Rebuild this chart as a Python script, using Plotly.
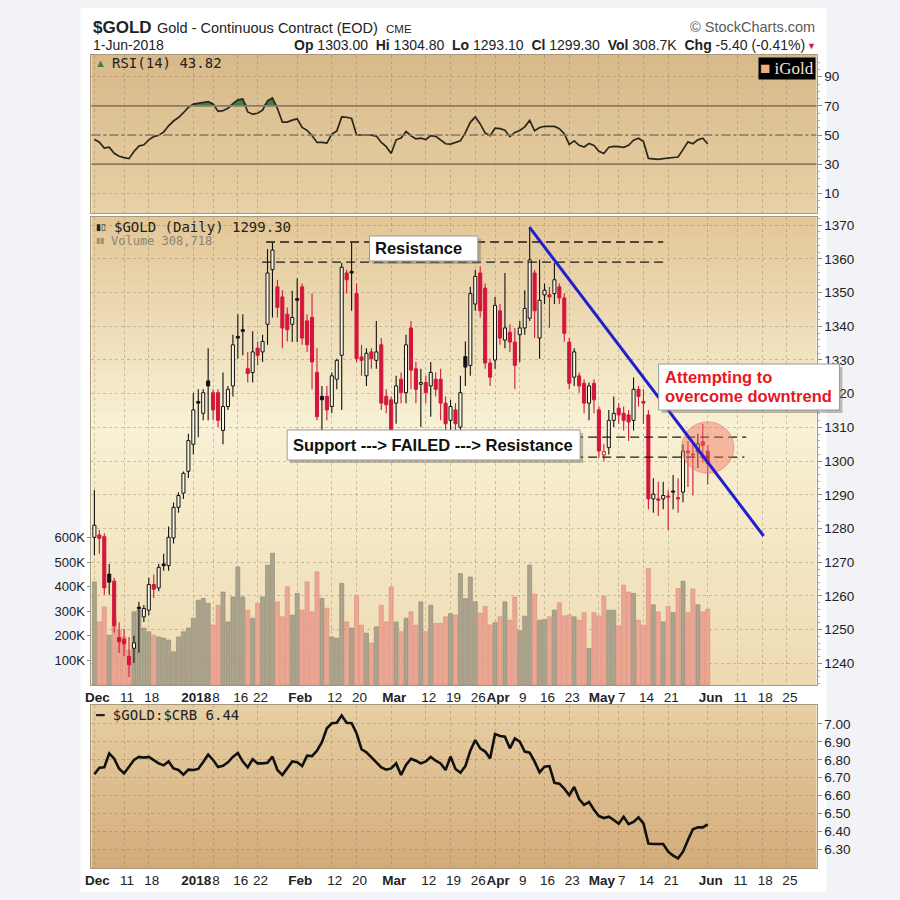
import plotly.graph_objects as go

W, H = 900, 900

# ---------------- data ----------------
month_days = {
    "2017-12": [1, 4, 5, 6, 7, 8, 11, 12, 13, 14, 15, 18, 19, 20, 21, 22, 26, 27, 28, 29],
    "2018-01": [2, 3, 4, 5, 8, 9, 10, 11, 12, 16, 17, 18, 19, 22, 23, 24, 25, 26, 29, 30, 31],
    "2018-02": [1, 2, 5, 6, 7, 8, 9, 12, 13, 14, 15, 16, 20, 21, 22, 23, 26, 27, 28],
    "2018-03": [1, 2, 5, 6, 7, 8, 9, 12, 13, 14, 15, 16, 19, 20, 21, 22, 23, 26, 27, 28, 29],
    "2018-04": [2, 3, 4, 5, 6, 9, 10, 11, 12, 13, 16, 17, 18, 19, 20, 23, 24, 25, 26, 27, 30],
    "2018-05": [1, 2, 3, 4, 7, 8, 9, 10, 11, 14, 15, 16, 17, 18, 21, 22, 23, 24, 25, 29, 30, 31],
    "2018-06": [1, 4, 5, 6, 7, 8, 11, 12, 13, 14, 15, 18, 19, 20, 21, 22, 25, 26, 27, 28, 29],
}
dates = [f"{m}-{d:02d}" for m, ds in month_days.items() for d in ds]

tick_dates = ["2017-12-01", "2017-12-11", "2017-12-18", "2018-01-02", "2018-01-08", "2018-01-16",
              "2018-01-22", "2018-02-01", "2018-02-12", "2018-02-20", "2018-03-01", "2018-03-12",
              "2018-03-19", "2018-03-26", "2018-04-02", "2018-04-09", "2018-04-16", "2018-04-23",
              "2018-05-01", "2018-05-07", "2018-05-14", "2018-05-21", "2018-06-01", "2018-06-11",
              "2018-06-18", "2018-06-25"]
tick_text = ["<b>Dec</b>", "11", "18", "<b>2018</b>", "8", "16", "22", "<b>Feb</b>", "12", "20",
             "<b>Mar</b>", "12", "19", "26", "<b>Apr</b>", "9", "16", "23", "<b>May</b>", "7",
             "14", "21", "<b>Jun</b>", "11", "18", "25"]

opens = [1277.4, 1278.1, 1277.6, 1266.5, 1264.4, 1247.7, 1247.2, 1242.1, 1244.5, 1256.7,
         1253.8, 1255.8, 1263.4, 1262.4, 1269.5, 1269.0, 1277.2, 1286.3, 1290.5, 1297.0,
         1305.0, 1317.7, 1314.2, 1323.8, 1320.3, 1320.3, 1309.1, 1316.2, 1322.3, 1337.0,
         1339.0, 1327.4, 1326.3, 1333.5, 1332.4, 1340.6, 1356.8, 1351.7, 1348.7, 1343.6,
         1340.6, 1348.2, 1351.7, 1341.6, 1342.6, 1326.3, 1319.2, 1319.2, 1316.2, 1324.3,
         1331.4, 1355.8, 1356.3, 1349.7, 1330.9, 1325.3, 1332.4, 1329.9, 1334.5, 1319.2,
         1318.2, 1317.2, 1324.3, 1320.3, 1339.5, 1327.4, 1322.8, 1323.3, 1322.3, 1324.3,
         1324.3, 1317.2, 1312.1, 1315.2, 1310.1, 1331.0, 1328.4, 1346.6, 1355.8, 1351.3,
         1329.1, 1330.0, 1344.6, 1335.9, 1338.2, 1335.3, 1337.5, 1339.5, 1342.4, 1355.8,
         1336.5, 1349.3, 1349.3, 1349.7, 1351.7, 1348.4, 1335.3, 1324.9, 1325.3, 1323.1,
         1317.2, 1323.1, 1315.2, 1301.8, 1304.0, 1312.1, 1315.7, 1314.2, 1313.7, 1312.1,
         1321.3, 1317.7, 1313.7, 1288.8, 1288.8, 1288.8, 1289.6, 1291.1, 1289.1, 1290.8,
         1303.0, 1302.0, 1302.7, 1305.8, 1303.0]
highs = [1291.4, 1279.6, 1278.6, 1269.5, 1265.4, 1252.2, 1250.2, 1247.8, 1248.2, 1258.3,
         1257.3, 1265.4, 1266.4, 1269.5, 1272.5, 1280.6, 1287.7, 1290.8, 1296.9, 1308.1,
         1320.3, 1321.3, 1321.3, 1333.5, 1321.3, 1321.3, 1326.3, 1322.3, 1337.5, 1343.6,
         1343.6, 1332.4, 1338.5, 1335.5, 1337.5, 1362.9, 1364.9, 1353.8, 1350.7, 1345.6,
         1350.5, 1354.2, 1352.7, 1343.6, 1349.7, 1333.5, 1322.3, 1322.3, 1326.3, 1330.4,
         1358.8, 1356.8, 1364.9, 1352.7, 1334.5, 1333.5, 1333.5, 1341.6, 1336.5, 1321.3,
         1319.2, 1325.3, 1326.3, 1337.5, 1341.6, 1329.4, 1327.4, 1325.3, 1329.4, 1326.3,
         1327.4, 1319.2, 1318.2, 1317.2, 1325.3, 1335.5, 1351.7, 1356.8, 1357.8, 1352.7,
         1330.4, 1348.7, 1346.6, 1355.8, 1340.6, 1339.5, 1341.6, 1350.7, 1369.4, 1356.8,
         1359.8, 1352.7, 1351.7, 1358.8, 1352.7, 1349.7, 1336.5, 1333.5, 1326.3, 1324.3,
         1323.3, 1324.3, 1316.2, 1305.0, 1315.2, 1319.2, 1317.2, 1316.2, 1315.2, 1324.8,
         1322.3, 1321.3, 1315.2, 1294.9, 1293.9, 1293.9, 1291.4, 1295.9, 1294.9, 1305.0,
         1306.0, 1306.0, 1308.1, 1311.1, 1304.8]
lows = [1272.1, 1272.5, 1260.4, 1260.4, 1249.2, 1243.1, 1242.1, 1236.0, 1240.1, 1243.2,
        1252.3, 1254.3, 1259.4, 1261.4, 1267.5, 1267.5, 1275.6, 1284.7, 1288.8, 1295.0,
        1302.0, 1307.1, 1312.1, 1312.1, 1312.1, 1310.1, 1305.0, 1315.2, 1319.2, 1330.4,
        1331.4, 1323.3, 1323.3, 1328.4, 1329.4, 1334.5, 1342.6, 1342.6, 1333.5, 1335.5,
        1335.3, 1335.3, 1334.5, 1332.4, 1321.3, 1312.1, 1308.1, 1312.1, 1314.2, 1321.3,
        1315.2, 1349.7, 1344.6, 1329.4, 1325.3, 1322.3, 1327.4, 1327.4, 1315.2, 1314.2,
        1304.0, 1311.1, 1317.2, 1317.2, 1321.3, 1317.2, 1310.1, 1317.2, 1313.2, 1319.2,
        1312.1, 1309.1, 1308.1, 1309.1, 1308.1, 1322.3, 1325.3, 1344.6, 1342.6, 1327.4,
        1322.3, 1327.4, 1334.5, 1333.5, 1332.4, 1321.3, 1329.4, 1337.5, 1341.6, 1336.5,
        1330.4, 1346.6, 1339.5, 1346.6, 1346.6, 1335.5, 1321.3, 1322.3, 1320.3, 1314.2,
        1312.1, 1314.2, 1301.0, 1300.0, 1302.0, 1310.1, 1311.1, 1309.1, 1306.0, 1309.1,
        1316.2, 1311.1, 1285.7, 1284.7, 1283.7, 1285.7, 1279.6, 1285.7, 1284.7, 1287.8,
        1292.3, 1289.8, 1298.0, 1299.5, 1293.1]
closes = [1281.0, 1277.1, 1262.4, 1264.1, 1251.2, 1246.4, 1245.8, 1239.6, 1246.1, 1256.2,
          1256.3, 1263.4, 1262.0, 1268.5, 1269.0, 1277.4, 1286.3, 1289.8, 1296.4, 1306.1,
          1315.2, 1317.2, 1320.3, 1322.3, 1315.2, 1312.1, 1316.2, 1321.3, 1334.5, 1336.5,
          1338.5, 1326.0, 1332.4, 1331.4, 1335.5, 1355.8, 1362.6, 1345.6, 1339.5, 1339.0,
          1342.6, 1347.7, 1336.5, 1334.5, 1329.4, 1313.2, 1318.2, 1315.2, 1325.3, 1329.9,
          1357.5, 1353.8, 1355.8, 1330.4, 1329.9, 1332.0, 1330.4, 1332.4, 1317.2, 1316.7,
          1309.1, 1322.3, 1320.3, 1334.5, 1327.0, 1321.3, 1323.3, 1320.3, 1326.3, 1321.3,
          1317.2, 1311.1, 1316.2, 1311.1, 1320.3, 1327.9, 1349.7, 1354.8, 1344.6, 1329.1,
          1324.9, 1346.2, 1336.5, 1339.5, 1335.3, 1328.4, 1339.5, 1345.3, 1359.7, 1344.6,
          1347.7, 1350.7, 1348.7, 1353.8, 1348.4, 1337.9, 1323.1, 1332.4, 1322.3, 1317.2,
          1322.3, 1318.2, 1303.0, 1302.8, 1312.1, 1314.2, 1313.7, 1312.1, 1311.6, 1321.3,
          1319.2, 1317.2, 1288.8, 1290.2, 1288.4, 1289.8, 1289.3, 1290.8, 1288.8, 1303.0,
          1302.5, 1301.8, 1305.1, 1304.7, 1299.3]
volume_k = [420, 257, 318, 203, 272, 224, 196, 142, 298, 305,
            232, 217, 203, 196, 191, 183, 135, 196, 217, 232,
            272, 345, 353, 333, 244, 325, 379, 257, 359, 481,
            359, 305, 272, 333, 359, 488, 537, 339, 278, 400,
            285, 373, 305, 420, 298, 461, 353, 313, 196, 191,
            414, 257, 232, 366, 244, 211, 171, 237, 325, 257,
            400, 257, 217, 272, 298, 244, 339, 217, 325, 251,
            251, 278, 291, 285, 454, 352, 440, 339, 293, 320,
            245, 254, 278, 339, 264, 359, 221, 281, 489, 370,
            264, 267, 278, 305, 335, 282, 285, 278, 264, 295,
            149, 295, 281, 362, 305, 305, 241, 407, 379, 373,
            264, 244, 474, 327, 298, 257, 320, 295, 393, 423,
            295, 391, 327, 298, 308.718]
rsi14 = [47.1, 45.1, 41.1, 41.6, 37.5, 35.4, 34.5, 33.8, 38.7, 42.4,
         43.3, 46.7, 48.9, 49.8, 52.0, 56.3, 59.6, 62.0, 65.3, 69.0,
         71.2, 71.6, 72.5, 72.9, 71.3, 66.2, 66.7, 68.3, 71.6, 74.1,
         74.7, 65.8, 64.3, 64.9, 67.1, 73.4, 75.4, 68.2, 58.9, 58.9,
         60.2, 61.1, 55.2, 53.2, 49.7, 44.9, 45.0, 44.4, 50.7, 52.7,
         62.4, 62.2, 61.4, 50.0, 50.0, 50.0, 49.9, 49.3, 44.9, 42.0,
         37.3, 46.7, 48.0, 52.4, 49.5, 47.3, 47.8, 46.9, 49.6, 49.1,
         46.7, 44.0, 43.8, 44.7, 46.0, 51.6, 58.7, 62.4, 57.6, 51.3,
         49.6, 54.7, 54.4, 53.3, 48.9, 51.8, 53.1, 55.6, 60.0, 52.9,
         55.1, 56.0, 55.9, 55.9, 54.4, 50.9, 43.6, 46.0, 42.9, 41.8,
         44.2, 42.9, 38.9, 37.3, 41.6, 42.2, 42.0, 41.6, 42.9, 46.4,
         47.8, 45.5, 34.0, 33.6, 33.3, 33.8, 34.0, 34.7, 34.9, 40.0,
         45.3, 44.0, 46.7, 47.8, 43.82]
gold_crb = [6.719, 6.756, 6.758, 6.836, 6.806, 6.750, 6.724, 6.764, 6.799, 6.816,
            6.812, 6.816, 6.797, 6.780, 6.769, 6.791, 6.752, 6.743, 6.717, 6.745,
            6.743, 6.749, 6.788, 6.829, 6.799, 6.760, 6.767, 6.786, 6.816, 6.838,
            6.790, 6.758, 6.803, 6.780, 6.780, 6.784, 6.818, 6.743, 6.715, 6.752,
            6.791, 6.786, 6.765, 6.823, 6.821, 6.851, 6.898, 6.976, 7.004, 7.007,
            7.047, 7.007, 7.004, 6.948, 6.859, 6.842, 6.814, 6.784, 6.758, 6.745,
            6.752, 6.780, 6.715, 6.771, 6.806, 6.795, 6.780, 6.791, 6.816, 6.795,
            6.780, 6.743, 6.818, 6.749, 6.728, 6.765, 6.851, 6.910, 6.864, 6.846,
            6.808, 6.944, 6.933, 6.929, 6.864, 6.920, 6.901, 6.846, 6.840, 6.790,
            6.730, 6.762, 6.765, 6.672, 6.667, 6.639, 6.602, 6.648, 6.581, 6.549,
            6.564, 6.521, 6.486, 6.475, 6.482, 6.464, 6.443, 6.482, 6.441, 6.453,
            6.479, 6.445, 6.333, 6.330, 6.330, 6.330, 6.287, 6.265, 6.250, 6.287,
            6.352, 6.412, 6.423, 6.423, 6.440]

price_ticks = list(range(1240, 1371, 10))
rsi_ticks = [10, 30, 50, 70, 90]
ratio_ticks = [6.30, 6.40, 6.50, 6.60, 6.70, 6.80, 6.90, 7.00]
vol_ticks = [100, 200, 300, 400, 500, 600]

resistance_levels = [1365.0, 1359.0]
support_levels = [1307.1, 1301.2]

# ---------------- styling helpers ----------------
RED = "#d4163c"
BLK = "#111111"
GRID = "rgba(140,120,90,0.40)"
BORDER = "#a8987c"
TXT = "#222222"
SANS = "Liberation Sans, Arial, sans-serif"
MONO = "DejaVu Sans Mono, monospace"


def px(x):
    return x / W


def py(y):
    return 1 - y / H


def hex2rgb(h):
    h = h.lstrip("#")
    return [int(h[i:i + 2], 16) for i in (0, 2, 4)]


def interp(stops, t):
    for (t0, c0), (t1, c1) in zip(stops, stops[1:]):
        if t0 <= t <= t1:
            f = (t - t0) / (t1 - t0) if t1 > t0 else 0
            a, b = hex2rgb(c0), hex2rgb(c1)
            return "rgb(%d,%d,%d)" % tuple(round(a[k] + (b[k] - a[k]) * f) for k in range(3))
    return stops[-1][1]


X0, X1 = 86, 816
P_RSI = (55, 213)
P_MAIN = (216.7, 685)
P_BOT = (705, 868)

shapes = []
# page card
shapes.append(dict(type="rect", xref="paper", yref="paper", x0=px(75), x1=px(826), y0=py(892), y1=py(8),
                   fillcolor="white", line=dict(width=0), layer="below"))


def bands(top, bot, stops, n=48):
    hgt = bot - top
    for k in range(n):
        a = top + hgt * k / n
        b = top + hgt * (k + 1) / n + 0.6
        shapes.append(dict(type="rect", xref="paper", yref="paper", x0=px(X0), x1=px(X1),
                           y0=py(min(b, bot)), y1=py(a), fillcolor=interp(stops, (k + 0.5) / n),
                           line=dict(width=0), layer="below"))


bands(*P_RSI, [(0, "#d8b989"), (1, "#e7d1a6")])
bands(*P_MAIN, [(0, "#e2c696"), (0.45, "#f8f1d5"), (1, "#eedab0")])
bands(*P_BOT, [(0, "#e7cfa4"), (1, "#d3ab79")])

# ---------------- derived from data ----------------
n = len(closes)
xi = list(range(n))
tickvals = [dates.index(d) for d in tick_dates]
up = [True] + [closes[i] >= closes[i - 1] for i in range(1, n)]
col = [BLK if u else RED for u in up]
filled = [c < o for o, c in zip(opens, closes)]
body_fill = [col[i] if filled[i] else "#fbf5e3" for i in range(n)]
body_base = [min(o, c) for o, c in zip(opens, closes)]
body_h = [max(abs(c - o), 0.35) for o, c in zip(opens, closes)]

fig = go.Figure()

# volume (base axis of main panel)
fig.add_trace(go.Bar(x=xi, y=volume_k, width=0.82,
                     marker=dict(color=["#aba38d" if u else "#eca693" for u in up],
                                 line=dict(color=["#8f8772" if u else "#d98c7a" for u in up], width=0.6)),
                     xaxis="x", yaxis="y", hoverinfo="skip"))

# wicks
for colour in (BLK, RED):
    wx, wy = [], []
    for i in range(n):
        if col[i] != colour:
            continue
        top, bot = max(opens[i], closes[i]), min(opens[i], closes[i])
        wx += [i, i, None, i, i, None]
        wy += [highs[i], top, None, bot, lows[i], None]
    fig.add_trace(go.Scatter(x=wx, y=wy, mode="lines", line=dict(color=colour, width=1.1),
                             xaxis="x", yaxis="y2", hoverinfo="skip"))

# bodies
fig.add_trace(go.Bar(x=xi, y=body_h, base=body_base, width=0.62,
                     marker=dict(color=body_fill, line=dict(color=col, width=1)),
                     xaxis="x", yaxis="y2", hoverinfo="skip"))

# RSI
fig.add_trace(go.Scatter(x=xi, y=[70] * n, mode="lines", line=dict(width=0), xaxis="x3", yaxis="y4",
                         hoverinfo="skip"))
fig.add_trace(go.Scatter(x=xi, y=[max(r, 70) for r in rsi14], mode="lines", line=dict(width=0),
                         fill="tonexty", fillcolor="#4d7b47", xaxis="x3", yaxis="y4", hoverinfo="skip"))
fig.add_trace(go.Scatter(x=xi, y=rsi14, mode="lines", line=dict(color="#2a281c", width=1.7),
                         xaxis="x3", yaxis="y4", hoverinfo="skip"))

# Gold:CRB ratio
fig.add_trace(go.Scatter(x=xi, y=gold_crb, mode="lines", line=dict(color="#111", width=2.6),
                         xaxis="x2", yaxis="y3", hoverinfo="skip"))

# ---------------- annotation shapes ----------------
for lvl, (a, b) in zip(resistance_levels, [(34.7, 115.0), (33.9, 115.9)]):
    shapes.append(dict(type="line", xref="x", yref="y2", x0=a, x1=b, y0=lvl, y1=lvl,
                       line=dict(color="#1a1a1a", width=1.3, dash="9px,5px")))
for lvl, (a, b) in zip(support_levels, [(97.0, 131.8), (97.0, 131.4)]):
    shapes.append(dict(type="line", xref="x", yref="y2", x0=a, x1=b, y0=lvl, y1=lvl,
                       line=dict(color="#1a1a1a", width=1.3, dash="9px,5px")))
shapes.append(dict(type="circle", xref="x", yref="y2", x0=118.7, x1=129.3, y0=1296.4, y1=1311.7,
                   fillcolor="rgba(240,115,95,0.45)", line=dict(color="rgba(225,110,90,0.5)", width=1)))
shapes.append(dict(type="line", xref="x", yref="y2", x0=87.95, y0=1369.4, x1=135.3, y1=1277.8,
                   line=dict(color="#1f1fd0", width=3)))
# RSI reference lines
for lvl, dash, w in [(70, "solid", 1.8), (30, "solid", 1.8), (50, "dashdot", 1.3)]:
    shapes.append(dict(type="line", xref="x3 domain", yref="y4", x0=0, x1=1, y0=lvl, y1=lvl,
                       line=dict(color="#8a7b66", width=w, dash=dash)))

# boxes with shadows
for (bx0, by0, bx1, by1) in [(366, 236, 475, 261), (283, 430, 578, 460), (657, 364, 839, 410)]:
    shapes.append(dict(type="rect", xref="paper", yref="paper", x0=px(bx0 + 3), x1=px(bx1 + 3),
                       y0=py(by1 + 3), y1=py(by0 + 3), fillcolor="rgba(120,110,100,0.45)",
                       line=dict(width=0)))
    shapes.append(dict(type="rect", xref="paper", yref="paper", x0=px(bx0), x1=px(bx1),
                       y0=py(by1), y1=py(by0), fillcolor="white", line=dict(color="#9a9a9a", width=1)))

# ---------------- text ----------------
ann = []


def text(t, x, y, size, xanchor="left", color=TXT, family=SANS, **kw):
    ann.append(dict(text=t, x=px(x), y=py(y), xref="paper", yref="paper", xanchor=xanchor,
                    yanchor="middle", showarrow=False, font=dict(size=size, color=color, family=family),
                    **kw))


o, h, l, c = opens[-1], highs[-1], lows[-1], closes[-1]
chg = c - closes[-2]
text("<b>$GOLD</b>", 86, 27, 17)
text("Gold - Continuous Contract (EOD)", 150, 28, 14.5)
text("CME", 381, 29, 11.5)
text("© StockCharts.com", 816, 27, 14.5, xanchor="right", color="#5a5a5a")
text("1-Jun-2018", 86, 45, 14)
text(f"<b>Op</b> {o:.2f}  <b>Hi</b> {h:.2f}  <b>Lo</b> {l:.2f}  <b>Cl</b> {c:.2f}  "
     f"<b>Vol</b> {volume_k[-1]:.1f}K  <b>Chg</b> {chg:.2f} ({chg / closes[-2] * 100:.2f}%)",
     806, 45, 14, xanchor="right")
text("▼", 817, 46, 9, xanchor="right", color=RED)

text("<span style='color:#4d7b47'>▲</span>", 88, 63, 11)
text(f"RSI(14) {rsi14[-1]:.2f}", 105, 63, 14, family=MONO)
text("<span style='color:#f4ad78'>■</span> iGold", 815, 68.5, 17, xanchor="right", color="#f2e6d4",
     family="Liberation Serif, DejaVu Serif, serif", bgcolor="black", borderpad=1)

text("▮▯", 89, 226.5, 9)
text(f"$GOLD (Daily) {c:.2f}", 107, 226.5, 14, family=MONO)
text("<span style='color:#9a927c'>▮▮</span>", 89, 240.5, 8)
text(f"Volume {volume_k[-1] * 1000:,.0f}", 104, 240.5, 12, family=MONO, color="#8a8470")
text(f"<b>━</b> $GOLD:$CRB {gold_crb[-1]:.2f}", 88, 715, 14, family=MONO)

text("<b>Resistance</b>", 369, 248.5, 16.5, color="#111")
text("<b>Support ---> FAILED ---> Resistance</b>", 287, 445, 16.5, color="#111")
text("<b>Attempting to</b>", 661, 377, 16.5, color="#e8161e")
text("<b>overcome downtrend</b>", 661, 395.5, 16.5, color="#e8161e")

# ---------------- axes ----------------
xd = [px(X0), px(X1)]
xcommon = dict(domain=xd, range=[-0.6, 146.0], tickvals=tickvals, ticktext=tick_text, tickangle=0,
               tickfont=dict(family=SANS, size=13.5, color=TXT), showgrid=True, gridcolor=GRID,
               griddash="dot", gridwidth=1, zeroline=False, showline=True, linecolor=BORDER,
               mirror=True, ticks="", ticklabelshift=3, fixedrange=True)
ycommon = dict(zeroline=False, showline=True, linecolor=BORDER, mirror=True, ticks="outside",
               ticklen=4, tickcolor="#888", tickfont=dict(family=SANS, size=13.5, color=TXT),
               fixedrange=True)

fig.update_layout(
    width=W, height=H, margin=dict(l=0, r=0, t=0, b=0),
    paper_bgcolor="#f2f3f6", plot_bgcolor="rgba(0,0,0,0)",
    showlegend=False, barmode="overlay", hovermode=False,
    xaxis=dict(anchor="y", **xcommon),
    xaxis2=dict(anchor="y3", matches="x", **xcommon),
    xaxis3=dict(anchor="y4", matches="x", **{**xcommon, "showticklabels": False}),
    yaxis=dict(domain=[py(P_MAIN[1]), py(P_MAIN[0])], range=[0, 1908], side="left", anchor="x",
               tickvals=vol_ticks, ticktext=[f"{v}K" for v in vol_ticks], showgrid=False,
               **{**ycommon, "ticklen": 3, "tickfont": dict(family=SANS, size=13, color=TXT)}),
    yaxis2=dict(overlaying="y", anchor="x", side="right", range=[1233.6, 1372.5],
                tickvals=price_ticks, showgrid=True, gridcolor=GRID, griddash="dot",
                minor=dict(ticks="outside", ticklen=2, dtick=2, tickcolor="#aaa", showgrid=False),
                **ycommon),
    yaxis3=dict(domain=[py(P_BOT[1]), py(P_BOT[0])], anchor="x2", side="right", range=[6.196, 7.106],
                tickvals=ratio_ticks, tickformat=".2f", showgrid=True, gridcolor=GRID, griddash="dot",
                **ycommon),
    yaxis4=dict(domain=[py(P_RSI[1]), py(P_RSI[0])], anchor="x3", side="right", range=[-3.5, 104.9],
                tickvals=rsi_ticks, showgrid=True, gridcolor=GRID, griddash="dot",
                minor=dict(ticks="outside", ticklen=2, dtick=5, tickcolor="#aaa", showgrid=False),
                **ycommon),
    shapes=shapes, annotations=ann,
)

fig.write_html("out.html")
